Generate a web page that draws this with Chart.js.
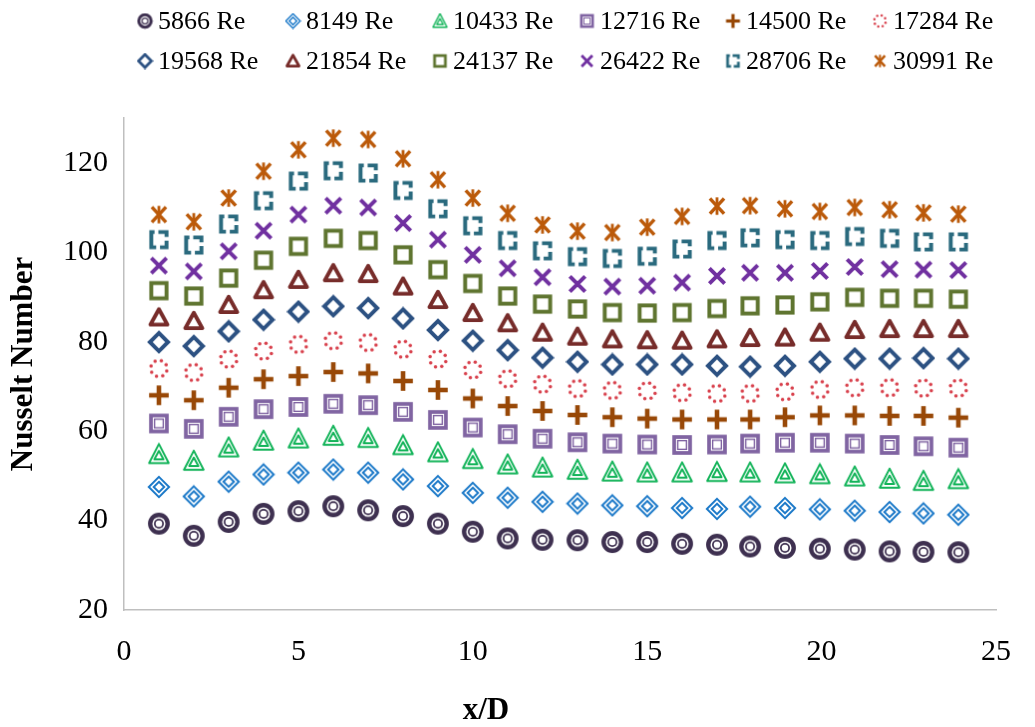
<!DOCTYPE html>
<html lang="en">
<head>
<meta charset="UTF-8">
<title>Nusselt Number vs x/D</title>
<script src="https://cdn.jsdelivr.net/npm/chart.js@4.4.1/dist/chart.umd.min.js"></script>
<style>
    body {
        margin: 0;
        background-color: #ffffff;
    }

    #wrap {
        width: 1035px;
        height: 727px;
    }
</style>
</head>
<body>
<div id="wrap"><canvas id="nuChart" width="1035" height="727"></canvas></div>
<script>
    // x/D stations
    const xD = [1, 2, 3, 4, 5, 6, 7, 8, 9, 10, 11, 12, 13, 14, 15, 16, 17, 17.95, 18.95, 19.95, 20.95, 21.95, 22.92, 23.92];

    const seriesNames = ['5866 Re', '8149 Re', '10433 Re', '12716 Re', '14500 Re', '17284 Re',
                         '19568 Re', '21854 Re', '24137 Re', '26422 Re', '28706 Re', '30991 Re'];

    const nu5866  = [39.3, 36.6, 39.7, 41.5, 42.1, 43.2, 42.3, 41.0, 39.3, 37.5, 36.0, 35.7, 35.6, 35.2, 35.2, 34.8, 34.6, 34.2, 33.9, 33.7, 33.5, 33.1, 33.0, 32.9];
    const nu8149  = [47.5, 45.4, 48.7, 50.3, 50.7, 51.4, 50.7, 49.2, 47.7, 46.2, 45.1, 44.2, 43.8, 43.4, 43.2, 42.8, 42.6, 43.1, 42.8, 42.5, 42.2, 41.9, 41.6, 41.3];
    const nu10433 = [54.8, 53.3, 56.3, 57.8, 58.3, 58.9, 58.4, 56.8, 55.2, 53.7, 52.5, 51.8, 51.3, 50.9, 50.7, 50.7, 50.8, 50.7, 50.5, 50.3, 49.8, 49.3, 48.8, 49.2];
    const nu12716 = [61.7, 60.5, 63.2, 64.9, 65.4, 66.1, 65.8, 64.3, 62.5, 60.8, 59.3, 58.3, 57.5, 57.2, 57.0, 56.9, 57.0, 57.2, 57.4, 57.4, 57.2, 56.9, 56.6, 56.3];
    const nu14500 = [68.0, 66.9, 69.7, 71.6, 72.3, 73.2, 72.9, 71.2, 69.2, 67.3, 65.6, 64.5, 63.6, 63.1, 62.8, 62.6, 62.6, 62.6, 63.1, 63.5, 63.5, 63.4, 63.4, 63.0];
    const nu17284 = [74.0, 73.1, 76.1, 77.9, 79.4, 80.2, 79.8, 78.3, 76.1, 73.7, 71.7, 70.5, 69.5, 69.1, 69.0, 68.6, 68.4, 68.4, 68.8, 69.3, 69.7, 69.7, 69.6, 69.6];
    const nu19568 = [79.9, 79.0, 82.3, 84.9, 86.7, 87.9, 87.5, 85.2, 82.6, 80.2, 78.1, 76.4, 75.5, 74.9, 74.9, 74.9, 74.6, 74.4, 74.6, 75.5, 76.2, 76.2, 76.3, 76.2];
    const nu21854 = [85.4, 84.6, 88.2, 91.5, 93.8, 95.3, 95.1, 92.3, 89.3, 86.4, 84.1, 82.0, 81.1, 80.5, 80.3, 80.2, 80.5, 80.8, 80.9, 82.0, 82.6, 82.8, 82.8, 82.8];
    const nu24137 = [91.4, 90.2, 94.2, 98.2, 101.3, 103.1, 102.6, 99.4, 96.1, 93.0, 90.2, 88.4, 87.3, 86.5, 86.4, 86.5, 87.4, 88.0, 88.2, 88.9, 89.9, 89.7, 89.7, 89.5];
    const nu26422 = [97.0, 95.7, 100.2, 104.8, 108.4, 110.4, 110.0, 106.5, 102.8, 99.4, 96.4, 94.4, 92.9, 92.3, 92.5, 93.2, 94.7, 95.4, 95.4, 95.8, 96.7, 96.2, 96.1, 96.0];
    const nu28706 = [102.8, 101.6, 106.3, 111.5, 115.9, 118.2, 117.7, 113.8, 109.7, 105.9, 102.6, 100.3, 99.0, 98.6, 99.1, 100.7, 102.6, 103.2, 102.8, 102.6, 103.5, 103.1, 102.3, 102.3];
    const nu30991 = [108.4, 106.8, 112.1, 118.1, 122.9, 125.5, 125.2, 120.9, 116.2, 112.1, 108.7, 106.1, 104.7, 104.4, 105.6, 108.0, 110.3, 110.4, 109.7, 109.1, 110.0, 109.5, 108.8, 108.5];

    const allSeries = [nu5866, nu8149, nu10433, nu12716, nu14500, nu17284,
                       nu19568, nu21854, nu24137, nu26422, nu28706, nu30991];

    const seriesColors = ['#3e3050', '#1a78c8', '#14b45a', '#8064a2', '#984807', '#d8404c',
                          '#2c5182', '#772c2a', '#5f7530', '#7030a0', '#2a6a7e', '#bb5a0a'];
    const seriesMarkers = ['bullseye', 'dblDiamond', 'dblTriangle', 'dblSquare', 'plus', 'dotCircle',
                           'diamond', 'triangle', 'square', 'cross', 'dashSquare', 'asterisk'];

    // excel-ish markers drawn into small canvases (22 unit box, centred)
    function makeMarker(kind, color, size) {
        const c = document.createElement('canvas');
        c.width = size;
        c.height = size;
        const g = c.getContext('2d');
        const k = size / 22;
        g.translate(size / 2, size / 2);
        g.scale(k, k);
        g.strokeStyle = color;
        g.fillStyle = color;

        const diamond = (r) => {
            g.beginPath();
            g.moveTo(0, -r); g.lineTo(r, 0); g.lineTo(0, r); g.lineTo(-r, 0);
            g.closePath();
        };
        const tri = (t, w, b) => {
            g.beginPath();
            g.moveTo(0, t); g.lineTo(w, b); g.lineTo(-w, b);
            g.closePath();
        };
        const disk = (r, col) => {
            g.fillStyle = col;
            g.beginPath();
            g.arc(0, 0, r, 0, Math.PI * 2);
            g.fill();
        };

        switch (kind) {
            case 'bullseye':
                disk(10, color); disk(6.0, '#ffffff'); disk(4.6, color); disk(3.0, '#ffffff');
                break;
            case 'dblDiamond':
                g.lineWidth = 1.8;
                diamond(9.3); g.stroke();
                diamond(4.8); g.stroke();
                break;
            case 'dblTriangle':
                g.lineWidth = 1.8;
                g.lineJoin = 'round';
                tri(-9.5, 9, 8); g.stroke();
                tri(-3.2, 4.2, 4.6); g.stroke();
                break;
            case 'dblSquare':
                g.fillRect(-9, -9, 18, 18);
                g.fillStyle = '#ffffff';
                g.fillRect(-5.6, -5.6, 11.2, 11.2);
                g.lineWidth = 1.3;
                g.strokeRect(-4, -4, 8, 8);
                break;
            case 'plus':
                g.fillRect(-9, -2.1, 18, 4.2);
                g.fillRect(-2.1, -9, 4.2, 18);
                break;
            case 'dotCircle':
                for (let i = 0; i < 8; i++) {
                    const a = i * Math.PI / 4 + 0.3;
                    g.beginPath();
                    g.arc(Math.cos(a) * 7.5, Math.sin(a) * 7.5, 1.6, 0, Math.PI * 2);
                    g.fill();
                }
                break;
            case 'diamond':
                g.lineWidth = 3.6;
                diamond(8.3); g.stroke();
                break;
            case 'triangle':
                g.lineWidth = 3.6;
                g.lineJoin = 'round';
                tri(-7.5, 7.8, 6.5); g.stroke();
                break;
            case 'square':
                g.lineWidth = 3.6;
                g.strokeRect(-7, -7, 14, 14);
                break;
            case 'cross':
                g.lineWidth = 3.6;
                g.beginPath();
                g.moveTo(-7, -7); g.lineTo(7, 7);
                g.moveTo(7, -7); g.lineTo(-7, 7);
                g.stroke();
                break;
            case 'dashSquare':
                g.lineWidth = 3.6;
                g.setLineDash([12, 3.5]);
                g.beginPath();
                g.moveTo(-7, 2); g.lineTo(-7, -7); g.lineTo(7, -7); g.lineTo(7, 7); g.lineTo(-7, 7); g.lineTo(-7, 2);
                g.stroke();
                break;
            case 'asterisk':
                g.lineWidth = 3.2;
                g.beginPath();
                g.moveTo(-6.5, -7); g.lineTo(6.5, 7);
                g.moveTo(6.5, -7); g.lineTo(-6.5, 7);
                g.stroke();
                g.lineWidth = 2.6;
                g.beginPath();
                g.moveTo(0, -8); g.lineTo(0, 8);
                g.stroke();
                break;
        }
        return c;
    }

    const pointImgs = seriesMarkers.map((m, i) => makeMarker(m, seriesColors[i], 24));
    const legendImgs = seriesMarkers.map((m, i) => makeMarker(m, seriesColors[i], 17));

    // 2 rows x 6 columns legend, excel style
    const gridLegend = {
        id: 'gridLegend',
        afterDraw(chart) {
            const ctx = chart.ctx;
            const colX = [145, 293, 440, 587, 733, 880];
            const rowY = [21, 61];
            ctx.save();
            ctx.font = '26px "Liberation Serif", "Times New Roman", serif';
            ctx.fillStyle = '#000000';
            ctx.textBaseline = 'middle';
            ctx.textAlign = 'left';
            seriesNames.forEach((name, i) => {
                const x = colX[i % 6];
                const y = rowY[Math.floor(i / 6)];
                const img = legendImgs[i];
                ctx.drawImage(img, x - img.width / 2, y - img.height / 2);
                ctx.fillText(name, x + 13, y + 1);
            });
            // x axis title sits left of centre in the original
            ctx.font = 'bold 31px "Liberation Serif", "Times New Roman", serif';
            ctx.textAlign = 'center';
            ctx.fillText('x/D', 486, 711);
            ctx.restore();
        }
    };

    const datasets = allSeries.map((vals, i) => ({
        label: seriesNames[i],
        data: xD.map((x, j) => ({ x: x, y: vals[j] })),
        pointStyle: pointImgs[i],
        pointRadius: 10,
        showLine: false
    }));

    const tickFont = { family: '"Liberation Serif", "Times New Roman", serif', size: 30 };

    new Chart(document.getElementById('nuChart'), {
        type: 'scatter',
        data: { datasets: datasets },
        plugins: [gridLegend],
        options: {
            responsive: false,
            animation: false,
            devicePixelRatio: 1,
            events: [],
            layout: {
                padding: { top: 118, right: 35, left: 0, bottom: 0 }
            },
            plugins: {
                legend: { display: false },
                tooltip: { enabled: false }
            },
            scales: {
                x: {
                    type: 'linear',
                    min: 0,
                    max: 25,
                    ticks: { stepSize: 5, color: '#000000', font: tickFont, padding: 24, maxRotation: 0 },
                    grid: { display: false, drawTicks: false },
                    border: { display: true, color: '#bfbfbf', width: 1.5 },
                    afterFit(scale) { scale.height = 117; }
                },
                y: {
                    min: 20,
                    max: 130,
                    ticks: { stepSize: 20, color: '#000000', font: tickFont, padding: 16 },
                    grid: { display: false, drawTicks: false },
                    border: { display: true, color: '#bfbfbf', width: 1.5 },
                    afterBuildTicks(scale) {
                        scale.ticks = scale.ticks.filter(t => t.value <= 120);
                    },
                    afterFit(scale) { scale.width = 124; },
                    title: {
                        display: true,
                        text: 'Nusselt Number',
                        color: '#000000',
                        font: { family: '"Liberation Serif", "Times New Roman", serif', size: 31, weight: 'bold' },
                        padding: { top: 5, bottom: 0 }
                    }
                }
            }
        }
    });
</script>
</body>
</html>
